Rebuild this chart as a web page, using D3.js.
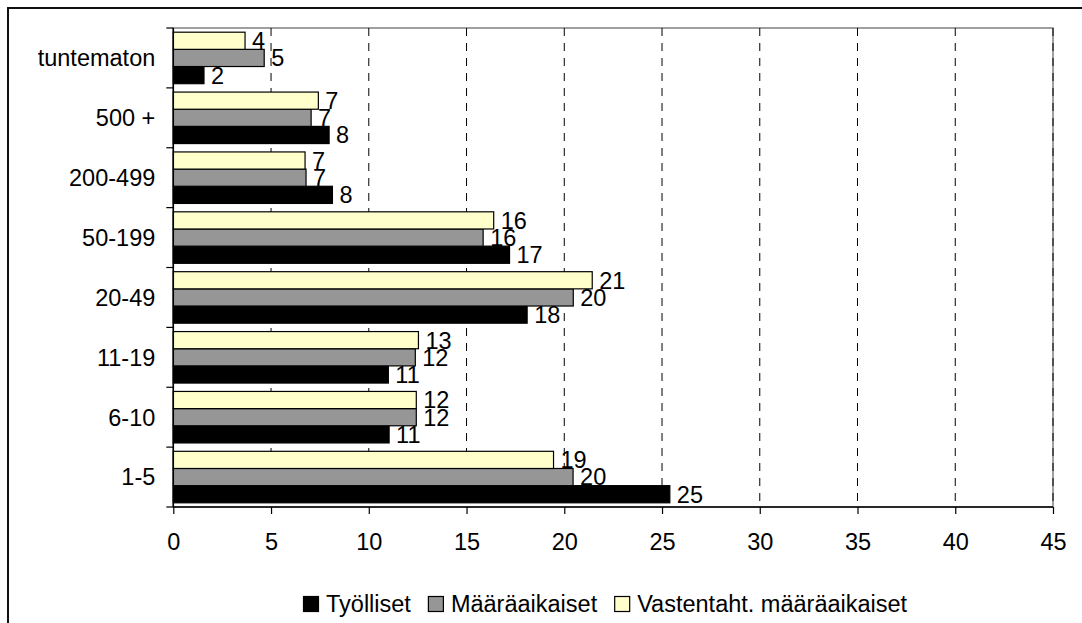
<!DOCTYPE html>
<html>
<head>
<meta charset="utf-8">
<script src="https://cdn.jsdelivr.net/npm/d3@7"></script>
<style>
  body { margin: 0; background: #fff; }
  svg { display: block; font-family: Arial, "Liberation Sans", sans-serif; }
</style>
</head>
<body>
<div id="wrapper"></div>
<script>
// data (percent)
const categories = ["tuntematon", "500 +", "200-499", "50-199", "20-49", "11-19", "6-10", "1-5"]
const seriesNames = ["Työlliset", "Määräaikaiset", "Vastentaht. määräaikaiset"]
const tyolliset = [1.57, 7.97, 8.14, 17.2, 18.1, 11.0, 11.04, 25.4]
const maaraaikaiset = [4.65, 7.05, 6.79, 15.85, 20.46, 12.38, 12.43, 20.45]
const vastentaht = [3.67, 7.42, 6.74, 16.39, 21.43, 12.54, 12.43, 19.45]
const seriesColors = ["#000000", "#969696", "#FFFFCC"]
const xTicks = [0, 5, 10, 15, 20, 25, 30, 35, 40, 45]

const seriesValues = [tyolliset, maaraaikaiset, vastentaht]
const fontSize = 23.5

let dimensions = {width: 1082, height: 623, margin: {top: 28, right: 29, bottom: 116, left: 173.3}}
const boundWidth = dimensions.width - dimensions.margin.left - dimensions.margin.right
const boundHeight = dimensions.height - dimensions.margin.top - dimensions.margin.bottom

var wrapper = d3.select("#wrapper")
  .append("svg")
  .attr("width", dimensions.width)
  .attr("height", dimensions.height)

// outer chart frame (runs past the right and bottom edge)
wrapper.append("rect")
  .attr("x", 8).attr("y", 8)
  .attr("width", 1100).attr("height", 640)
  .attr("fill", "#fff")
  .attr("stroke", "#111")
  .attr("stroke-width", 2)

var bounds = wrapper.append("g")
  .attr("transform", `translate(${dimensions.margin.left},${dimensions.margin.top})`)

//Scales
var xScale = d3.scaleLinear()
  .domain([0, 45])
  .range([0, boundWidth])
var yScale = d3.scaleBand()
  .domain(categories)
  .range([0, boundHeight])
  .paddingInner(0.14)
  .paddingOuter(0.07)
// top to bottom inside a group: Vastentaht., Määräaikaiset, Työlliset
var innerScale = d3.scaleBand()
  .domain([2, 1, 0])
  .range([0, yScale.bandwidth()])

// plot area border
bounds.append("rect")
  .attr("width", boundWidth).attr("height", boundHeight)
  .attr("fill", "none")
  .attr("stroke", "#808080")
  .attr("stroke-width", 1.5)

// gridlines
bounds.append("g")
  .selectAll("line")
  .data(xTicks.filter(d => d > 0))
  .enter().append("line")
    .attr("x1", d => xScale(d)).attr("x2", d => xScale(d))
    .attr("y1", 0).attr("y2", boundHeight)
    .attr("stroke", "#000")
    .attr("stroke-width", 1)
    .attr("stroke-dasharray", "8,7")

// bars
var rows = []
categories.forEach((c, i) => {
  seriesValues.forEach((vals, s) => rows.push({cat: c, s: s, v: vals[i]}))
})

bounds.append("g")
  .selectAll("rect")
  .data(rows)
  .enter().append("rect")
    .attr("x", 0)
    .attr("y", d => yScale(d.cat) + innerScale(d.s))
    .attr("width", d => xScale(d.v))
    .attr("height", innerScale.bandwidth())
    .attr("fill", d => seriesColors[d.s])
    .attr("stroke", "#000")
    .attr("stroke-width", 1.2)

// value labels
bounds.append("g")
  .selectAll("text")
  .data(rows)
  .enter().append("text")
    .attr("x", d => xScale(d.v) + 7)
    .attr("y", d => yScale(d.cat) + innerScale(d.s) + innerScale.bandwidth() / 2 + 8.4)
    .attr("font-size", fontSize)
    .attr("fill", "#000")
    .text(d => d3.format(".0f")(d.v))

//Axes
var xAxisGenerator = d3.axisBottom(xScale)
  .tickValues(xTicks)
  .tickSize(7)
  .tickPadding(19)
  .tickFormat(d3.format("d"))
var xAxis = bounds.append("g")
  .attr("transform", `translate(0,${boundHeight})`)
  .call(xAxisGenerator)
xAxis.select(".domain").attr("stroke", "#000").attr("stroke-width", 1.5)
  .attr("d", `M0,0H${boundWidth}`)
xAxis.selectAll(".tick line").attr("stroke", "#000").attr("stroke-width", 1.2)
xAxis.selectAll(".tick text")
  .attr("font-size", fontSize)
  .attr("font-family", "Arial, 'Liberation Sans', sans-serif")
  .attr("fill", "#000")

// y axis: line with ticks on the category boundaries
var yAxis = bounds.append("g")
yAxis.append("line")
  .attr("x1", 0).attr("x2", 0)
  .attr("y1", 0).attr("y2", boundHeight)
  .attr("stroke", "#000").attr("stroke-width", 1.5)
var boundaries = categories.map(c => yScale(c) - yScale.step() * yScale.paddingInner() / 2)
boundaries[0] = 0
boundaries.push(boundHeight)
yAxis.selectAll(".ytick")
  .data(boundaries)
  .enter().append("line")
    .attr("class", "ytick")
    .attr("x1", -7).attr("x2", 0)
    .attr("y1", d => d).attr("y2", d => d)
    .attr("stroke", "#000").attr("stroke-width", 1.2)
yAxis.selectAll(".ylabel")
  .data(categories)
  .enter().append("text")
    .attr("class", "ylabel")
    .attr("x", -18)
    .attr("y", d => yScale(d) + yScale.bandwidth() / 2 + 8.4)
    .attr("text-anchor", "end")
    .attr("font-size", fontSize)
    .text(d => d)

// legend
var legend = wrapper.append("g")
  .attr("transform", "translate(303,0)")
let lx = 0
seriesNames.forEach((name, i) => {
  legend.append("rect")
    .attr("x", lx + 0.5).attr("y", 596.5)
    .attr("width", 15).attr("height", 15)
    .attr("fill", seriesColors[i])
    .attr("stroke", "#000")
    .attr("stroke-width", 1.2)
  var t = legend.append("text")
    .attr("x", lx + 23)
    .attr("y", 611.5)
    .attr("font-size", fontSize)
    .text(name)
  lx += 23 + t.node().getComputedTextLength() + 17
})
</script>
</body>
</html>
